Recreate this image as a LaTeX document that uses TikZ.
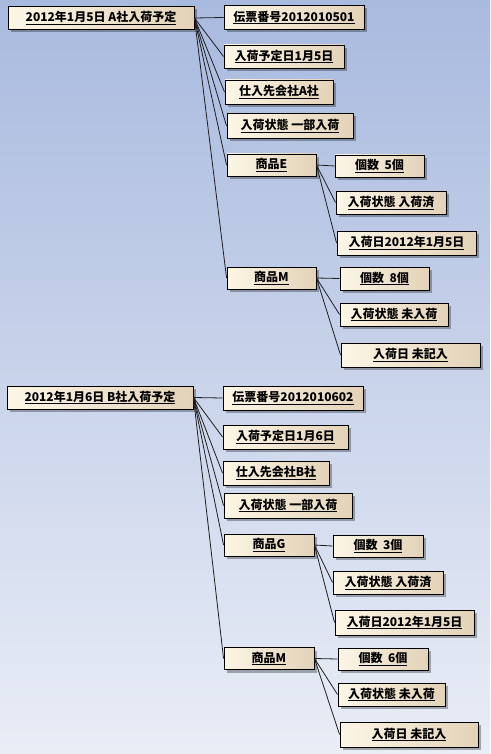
\documentclass[tikz,border=0pt]{standalone}
\usepackage{fontspec}
\setmainfont{Noto Sans CJK JP}
\usetikzlibrary{shadows}
\definecolor{bgtop}{HTML}{A9BADF}
\definecolor{bgbot}{HTML}{E9EDF6}
\definecolor{objcream}{HTML}{FDF6E6}
\definecolor{objtan}{HTML}{E3D2B8}
\definecolor{linkgray}{HTML}{1E1E1E}
\tikzset{
  % objekt
  ob/.style={draw=black,line width=0.9pt,left color=objcream,right color=objtan,
             minimum height=23pt,inner sep=0pt,font=\fontsize{12}{14}\selectfont\bfseries,
             drop shadow={shadow xshift=3pt,shadow yshift=-3pt,fill=black,opacity=0.3}},
  % länkar
  ln/.style={draw=linkgray,line width=0.8pt},
}
\begin{document}
\begin{tikzpicture}[x=1pt,y=-1pt]
\useasboundingbox (0,0) rectangle (490,754);
\fill[top color=bgtop,bottom color=bgbot] (0,0) rectangle (490,754);
  % A社
  \node[ob,minimum width=186pt] (ra) at (101,18) {\underline{2012年1月5日 A社入荷予定}};
  \node[ob,minimum width=140pt,minimum height=24pt] (a1) at (294,17.5) {\underline{伝票番号2012010501}};
  \node[ob,minimum width=120pt] (a2) at (284,56.5) {\underline{入荷予定日1月5日}};
  \node[ob,minimum width=108pt,minimum height=24pt] (a3) at (279,92) {\underline{仕入先会社A社}};
  \node[ob,minimum width=126pt,minimum height=25pt] (a4) at (290,126) {\underline{入荷状態 一部入荷}};
  \node[ob,minimum width=89pt,minimum height=22pt] (aE) at (271.5,165) {\underline{商品E}};
  \node[ob,minimum width=89pt,minimum height=22pt] (aE1) at (379.5,166) {\underline{個数\ \ 5個}};
  \node[ob,minimum width=110pt] (aE2) at (391,202.5) {\underline{入荷状態 入荷済}};
  \node[ob,minimum width=139pt,minimum height=24pt] (aE3) at (406.5,243) {\underline{入荷日2012年1月5日}};
  \node[ob,minimum width=89pt,minimum height=22pt] (aM) at (271.5,278) {\underline{商品M}};
  \node[ob,minimum width=89pt] (aM1) at (384.5,278.5) {\underline{個数\ \ 8個}};
  \node[ob,minimum width=108pt] (aM2) at (394,314.5) {\underline{入荷状態 未入荷}};
  \node[ob,minimum width=139pt,minimum height=24pt] (aM3) at (410.5,355) {\underline{入荷日 未記入}};
  \draw[ln] (ra.east) -- (a1.west);
  \draw[ln] (ra.east) -- (a2.west);
  \draw[ln] (ra.east) -- (a3.west);
  \draw[ln] (ra.east) -- (a4.west);
  \draw[ln] (ra.east) -- (aE.west);
  \draw[ln] (ra.east) -- (aM.west);
  \draw[ln] (aE.east) -- (aE1.west);
  \draw[ln] (aE.east) -- (aE2.west);
  \draw[ln] (aE.east) -- (aE3.west);
  \draw[ln] (aM.east) -- (aM1.west);
  \draw[ln] (aM.east) -- (aM2.west);
  \draw[ln] (aM.east) -- (aM3.west);
  % B社
  \node[ob,minimum width=186pt] (rb) at (100,397.5) {\underline{2012年1月6日 B社入荷予定}};
  \node[ob,minimum width=140pt,minimum height=24pt] (b1) at (293,398) {\underline{伝票番号2012010602}};
  \node[ob,minimum width=125pt,minimum height=24pt] (b2) at (285.5,437) {\underline{入荷予定日1月6日}};
  \node[ob,minimum width=106pt,minimum height=24pt] (b3) at (276,473) {\underline{仕入先会社B社}};
  \node[ob,minimum width=128pt,minimum height=25pt] (b4) at (288,505.5) {\underline{入荷状態 一部入荷}};
  \node[ob,minimum width=90pt,minimum height=22pt] (bG) at (269,545) {\underline{商品G}};
  \node[ob,minimum width=90pt,minimum height=22pt] (bG1) at (378,546) {\underline{個数\ \ 3個}};
  \node[ob,minimum width=110pt] (bG2) at (388,582.5) {\underline{入荷状態 入荷済}};
  \node[ob,minimum width=139pt,minimum height=25pt] (bG3) at (404.5,622.5) {\underline{入荷日2012年1月5日}};
  \node[ob,minimum width=90pt,minimum height=22pt] (bM) at (269,658.5) {\underline{商品M}};
  \node[ob,minimum width=90pt,minimum height=22pt] (bM1) at (383,659) {\underline{個数\ \ 6個}};
  \node[ob,minimum width=107pt] (bM2) at (391.5,694.5) {\underline{入荷状態 未入荷}};
  \node[ob,minimum width=138pt,minimum height=25pt] (bM3) at (409,734.5) {\underline{入荷日 未記入}};
  \draw[ln] (rb.east) -- (b1.west);
  \draw[ln] (rb.east) -- (b2.west);
  \draw[ln] (rb.east) -- (b3.west);
  \draw[ln] (rb.east) -- (b4.west);
  \draw[ln] (rb.east) -- (bG.west);
  \draw[ln] (rb.east) -- (bM.west);
  \draw[ln] (bG.east) -- (bG1.west);
  \draw[ln] (bG.east) -- (bG2.west);
  \draw[ln] (bG.east) -- (bG3.west);
  \draw[ln] (bM.east) -- (bM1.west);
  \draw[ln] (bM.east) -- (bM2.west);
  \draw[ln] (bM.east) -- (bM3.west);
\end{tikzpicture}
\end{document}
